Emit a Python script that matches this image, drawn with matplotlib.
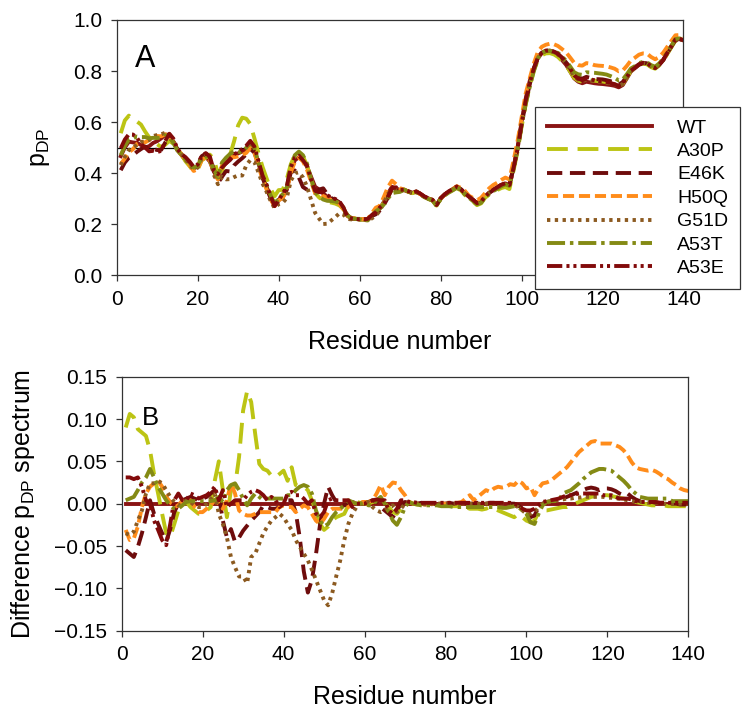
import numpy as np
import matplotlib
matplotlib.use("Agg")
import matplotlib.pyplot as plt

plt.rcParams['font.family'] = ['Liberation Sans', 'DejaVu Sans']
plt.rcParams['mathtext.fontset'] = 'custom'
plt.rcParams['mathtext.rm'] = 'Liberation Sans'
plt.rcParams['lines.scale_dashes'] = False

residues = np.arange(1, 141)
labels = ["WT", "A30P", "E46K", "H50Q", "G51D", "A53T", "A53E"]

WT = [
0.466,0.500,0.523,0.520,0.518,0.510,0.500,0.505,0.518,0.525,
0.536,0.550,0.550,0.523,0.490,0.470,0.450,0.435,0.418,0.425,
0.458,0.464,0.445,0.405,0.380,0.425,0.438,0.451,0.470,0.477,
0.484,0.493,0.510,0.490,0.438,0.386,0.347,0.307,0.274,0.294,
0.307,0.333,0.412,0.450,0.462,0.450,0.425,0.386,0.346,0.335,
0.320,0.307,0.300,0.294,0.285,0.261,0.232,0.222,0.220,0.218,
0.217,0.216,0.230,0.242,0.261,0.287,0.320,0.346,0.340,0.330,
0.333,0.327,0.322,0.327,0.318,0.307,0.300,0.294,0.274,0.300,
0.315,0.327,0.336,0.346,0.336,0.320,0.307,0.294,0.281,0.287,
0.307,0.322,0.333,0.343,0.353,0.359,0.353,0.420,0.500,0.600,
0.690,0.760,0.810,0.850,0.870,0.876,0.876,0.870,0.859,0.843,
0.824,0.798,0.771,0.758,0.752,0.758,0.755,0.752,0.750,0.749,
0.747,0.745,0.742,0.736,0.745,0.771,0.798,0.811,0.824,0.830,
0.828,0.817,0.811,0.824,0.843,0.870,0.896,0.922,0.925,0.920]

# difference spectra (variant - WT)
d_A30P = [
0.090,0.106,0.102,0.088,0.084,0.080,0.063,0.035,0.012,-0.012,
-0.035,-0.039,-0.024,-0.008,-0.004,0.002,-0.004,-0.008,-0.012,-0.012,
-0.008,-0.004,0.027,0.050,0.016,-0.016,0.016,0.020,0.055,0.110,
0.133,0.120,0.082,0.047,0.041,0.039,0.033,0.031,0.035,0.039,
0.027,0.043,0.022,0.020,0.020,0.016,0.004,-0.008,-0.024,-0.031,
-0.027,-0.020,-0.016,-0.014,-0.012,-0.002,0.000,0.002,0.001,0.000,
0.000,0.002,0.003,0.004,0.000,-0.004,-0.010,-0.012,-0.006,0.000,
0.002,0.000,-0.001,0.000,0.000,-0.001,-0.002,-0.002,-0.002,-0.002,
-0.002,-0.003,-0.003,-0.004,-0.004,-0.006,-0.006,-0.006,-0.007,-0.006,
-0.004,-0.006,-0.008,-0.010,-0.012,-0.014,-0.016,-0.012,-0.016,-0.020,
-0.022,-0.020,-0.010,-0.008,-0.008,-0.007,-0.006,-0.005,-0.004,-0.004,
-0.002,0.000,0.002,0.004,0.006,0.008,0.009,0.010,0.010,0.010,
0.009,0.008,0.007,0.006,0.005,0.003,0.002,0.001,0.000,-0.001,
-0.002,-0.002,-0.002,-0.002,-0.003,-0.003,-0.003,-0.003,-0.003,-0.003]

d_E46K = [
-0.055,-0.059,-0.063,-0.051,-0.035,-0.016,0.004,-0.012,-0.024,-0.035,
-0.045,-0.030,-0.010,0.000,0.004,0.006,0.008,0.006,0.004,0.006,
0.008,0.012,0.016,0.010,-0.020,-0.040,-0.030,-0.045,-0.040,-0.032,
-0.026,-0.020,-0.015,-0.010,-0.002,-0.004,-0.006,-0.006,-0.004,0.000,
0.004,0.004,-0.010,-0.040,-0.080,-0.105,-0.090,-0.060,-0.025,0.000,
0.020,0.010,0.002,0.000,-0.002,0.000,0.002,0.000,0.000,0.002,
0.002,0.004,0.002,-0.004,-0.008,-0.012,-0.016,-0.008,0.000,0.002,
0.001,0.000,0.000,0.001,0.000,0.000,-0.001,0.000,0.000,0.000,
0.001,0.000,0.000,0.001,0.001,0.000,0.000,0.001,0.000,0.000,
0.001,0.001,0.000,0.000,0.001,0.000,0.000,-0.002,-0.006,-0.012,
-0.016,-0.014,-0.004,0.000,0.002,0.003,0.004,0.005,0.006,0.008,
0.010,0.012,0.014,0.016,0.018,0.019,0.018,0.016,0.018,0.018,
0.017,0.015,0.012,0.010,0.012,0.008,0.005,0.003,0.002,0.002,
0.002,0.001,0.001,0.001,0.000,0.000,0.000,-0.001,-0.001,-0.001]

d_H50Q = [
-0.031,-0.043,-0.041,-0.027,-0.004,0.012,0.020,0.024,0.027,0.020,
0.008,0.002,-0.004,-0.002,0.004,0.004,0.004,-0.004,-0.010,-0.010,
-0.006,-0.002,0.004,0.000,-0.006,0.004,0.024,0.012,-0.008,-0.012,
-0.014,-0.014,-0.012,-0.010,-0.010,-0.010,-0.010,-0.010,-0.004,-0.002,
-0.004,-0.004,-0.010,-0.006,-0.002,-0.004,-0.012,-0.020,-0.024,-0.018,
-0.010,-0.006,-0.006,-0.006,-0.006,-0.004,0.000,0.001,0.002,0.002,
0.002,0.004,0.012,0.022,0.010,0.020,0.025,0.024,0.016,0.010,
0.002,0.000,0.000,-0.001,-0.001,0.000,0.000,0.000,0.000,0.000,
0.000,0.001,0.001,0.002,0.006,0.010,0.004,0.008,0.012,0.016,
0.014,0.018,0.020,0.019,0.020,0.023,0.022,0.027,0.024,0.018,
0.020,0.010,0.018,0.024,0.025,0.027,0.031,0.035,0.039,0.043,
0.049,0.055,0.061,0.065,0.069,0.073,0.074,0.071,0.071,0.071,
0.071,0.069,0.067,0.063,0.057,0.049,0.043,0.041,0.040,0.039,
0.040,0.038,0.035,0.031,0.029,0.025,0.022,0.018,0.016,0.015]

d_G51D = [
-0.035,-0.037,-0.033,-0.020,-0.008,0.012,0.024,0.024,0.027,0.024,
0.016,0.008,0.002,-0.002,0.000,0.004,0.002,-0.002,-0.004,-0.004,
0.000,0.006,0.012,-0.012,-0.024,-0.040,-0.063,-0.075,-0.086,-0.086,
-0.094,-0.063,-0.059,-0.047,-0.035,-0.027,-0.020,-0.016,-0.012,-0.016,
-0.024,-0.031,-0.043,-0.051,-0.059,-0.067,-0.078,-0.090,-0.102,-0.114,
-0.120,-0.106,-0.086,-0.067,-0.043,-0.024,-0.012,-0.004,0.000,0.002,
0.002,-0.004,-0.008,-0.010,-0.008,-0.004,-0.002,-0.010,-0.006,0.000,
0.001,0.000,0.000,0.000,-0.001,0.000,0.000,0.000,0.000,0.000,
0.000,0.000,0.000,0.000,0.000,0.000,0.000,0.000,0.000,0.000,
0.000,0.000,0.000,0.000,0.000,-0.002,-0.002,-0.004,-0.008,-0.012,
-0.012,-0.010,-0.004,0.000,0.001,0.002,0.003,0.004,0.005,0.006,
0.006,0.007,0.007,0.008,0.008,0.008,0.008,0.008,0.008,0.007,
0.007,0.006,0.006,0.005,0.004,0.003,0.002,0.002,0.002,0.001,
0.001,0.001,0.001,0.000,0.000,0.000,0.000,0.000,0.000,0.000]

d_A53T = [
0.004,0.006,0.008,0.016,0.025,0.031,0.041,0.031,0.020,0.012,
0.004,-0.002,-0.006,-0.006,-0.002,0.002,0.003,0.003,0.003,0.003,
0.003,0.003,0.004,0.008,0.002,0.016,0.022,0.024,0.016,0.006,
-0.002,0.006,0.012,0.008,0.004,0.006,0.006,0.006,0.006,0.006,
0.010,0.010,0.016,0.020,0.022,0.020,0.012,-0.008,-0.020,-0.027,
-0.024,-0.016,-0.010,-0.006,-0.002,0.004,0.002,0.000,0.000,0.000,
-0.002,-0.002,0.004,0.008,0.000,-0.010,-0.020,-0.025,-0.016,-0.004,
0.002,0.000,-0.001,-0.002,-0.002,-0.002,-0.002,-0.002,-0.003,-0.003,
-0.003,-0.004,-0.004,-0.004,-0.004,-0.004,-0.004,-0.004,-0.004,-0.004,
-0.004,-0.004,-0.004,-0.005,-0.005,-0.004,-0.003,-0.004,-0.008,-0.012,
-0.022,-0.024,-0.012,-0.002,0.002,0.003,0.003,0.004,0.012,0.014,
0.016,0.020,0.024,0.029,0.033,0.037,0.039,0.041,0.041,0.040,
0.039,0.035,0.031,0.027,0.022,0.016,0.012,0.008,0.007,0.006,
0.006,0.006,0.006,0.006,0.006,0.003,0.003,0.003,0.003,0.003]

d_A53E = [
0.031,0.031,0.029,0.031,0.020,0.004,0.000,-0.020,-0.031,-0.043,
-0.049,-0.024,0.004,0.012,0.004,0.004,0.012,0.010,0.006,0.008,
0.010,0.014,0.020,0.004,0.016,-0.004,0.000,0.004,0.004,0.004,
0.010,0.014,0.016,0.014,0.010,0.004,0.008,0.004,-0.004,0.000,
0.012,0.014,0.010,0.010,0.006,0.000,0.004,-0.012,-0.016,-0.010,
0.004,0.006,0.004,0.004,0.004,0.004,-0.004,0.000,0.000,0.000,
0.002,0.004,0.005,0.004,0.004,-0.008,-0.012,-0.006,0.004,0.004,
0.002,0.002,0.001,0.001,0.001,0.001,0.001,0.001,0.001,0.001,
0.001,0.001,0.001,0.001,0.001,0.001,0.001,0.001,0.001,0.001,
0.001,0.001,0.001,0.001,0.001,0.001,0.000,-0.002,-0.006,-0.008,
-0.008,-0.006,-0.002,0.002,0.003,0.004,0.005,0.006,0.008,0.010,
0.010,0.011,0.012,0.012,0.012,0.012,0.012,0.012,0.010,0.010,
0.010,0.008,0.006,0.006,0.006,0.005,0.003,0.002,0.002,0.002,
0.002,0.002,0.001,0.001,0.001,0.001,0.001,0.001,0.001,0.001]

xticks = [0, 20, 40, 60, 80, 100, 120, 140]
yticks_top = [0.0, 0.2, 0.4, 0.6, 0.8, 1.0]
yticks_bot = [-0.15, -0.10, -0.05, 0.00, 0.05, 0.10, 0.15]

wt = np.array(WT)
diffs = [np.zeros(140), np.array(d_A30P), np.array(d_E46K), np.array(d_H50Q),
         np.array(d_G51D), np.array(d_A53T), np.array(d_A53E)]

styles = [
    dict(color='#8a1414', linestyle='-'),
    dict(color='#bcc414', dashes=(15, 7)),
    dict(color='#6e0c0c', dashes=(11, 5.5)),
    dict(color='#ff8c1a', dashes=(8, 3.5)),
    dict(color='#8c5a20', dashes=(2.4, 3.2)),
    dict(color='#848a14', dashes=(13, 3.5, 2.5, 3.5)),
    dict(color='#820a0a', dashes=(11, 3, 2.2, 2.8, 2.2, 3)),
]
LW = 2.8

fig = plt.figure(figsize=(7.52, 7.22), dpi=100)
ax1 = fig.add_axes([0.1552, 0.6191, 0.7537, 0.3532])
ax2 = fig.add_axes([0.1618, 0.1265, 0.7535, 0.3518])

handles = []
for lab, d, st in zip(labels, diffs, styles):
    h, = ax1.plot(residues, wt + d, lw=LW, label=lab, **st)
    handles.append(h)
    ax2.plot(residues, d, lw=LW, **st)

ax1.axhline(0.5, color='black', lw=0.9, zorder=1)

for ax in (ax1, ax2):
    ax.set_xlim(0, 140)
    ax.set_xticks(xticks)
    ax.tick_params(direction='out', length=4.5, width=0.9, labelsize=15, pad=6,
                   top=False, right=False, color='#333333')
    for s in ax.spines.values():
        s.set_linewidth(0.9)
        s.set_color('#333333')
    ax.set_xlabel('Residue number', fontsize=18)
    ax.xaxis.set_label_coords(0.5, -0.215)

ax1.set_ylim(0, 1.0)
ax1.set_yticks(yticks_top)
ax1.set_yticklabels([f'{v:.1f}' for v in yticks_top])
ax1.set_ylabel(r'p$_\mathregular{DP}$', fontsize=18)
ax1.yaxis.set_label_coords(-0.114, 0.5)

ax2.set_ylim(-0.15, 0.15)
ax2.set_yticks(yticks_bot)
ax2.set_yticklabels([f'{v:.2f}'.replace('-', '\u2212') for v in yticks_bot])
ax2.set_ylabel(r'Difference p$_\mathregular{DP}$ spectrum', fontsize=18)
ax2.yaxis.set_label_coords(-0.15, 0.5)

ax1.text(0.032, 0.815, 'A', transform=ax1.transAxes, fontsize=22, va='baseline')
ax2.text(0.035, 0.81, 'B', transform=ax2.transAxes, fontsize=18.5, va='baseline')

leg = ax1.legend(handles=handles, loc='upper left',
                 bbox_to_anchor=(535 / 752, 1 - 107.3 / 722),
                 bbox_transform=fig.transFigure, fontsize=14,
                 handlelength=5.4, handletextpad=1.3, labelspacing=0.3,
                 borderpad=0.6, borderaxespad=0, fancybox=False,
                 framealpha=1, edgecolor='#333333')
leg.get_frame().set_linewidth(0.9)
leg.set_zorder(10)

fig.savefig('out.png', dpi=100)
